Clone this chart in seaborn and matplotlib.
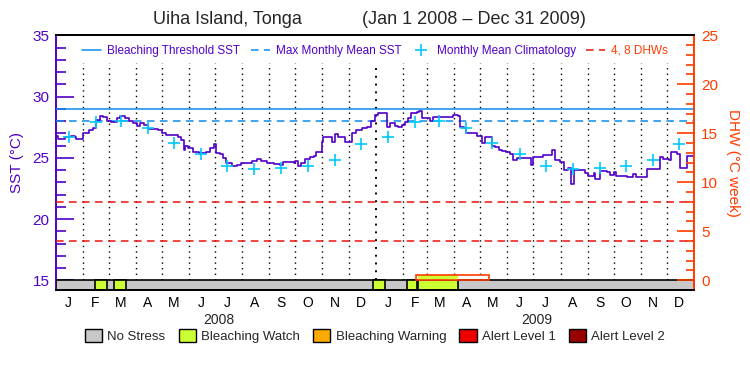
import pandas as pd
import seaborn as sns
import matplotlib
matplotlib.use("Agg")
import matplotlib.pyplot as plt
import matplotlib.dates as mdates
import matplotlib.transforms as mtransforms
from matplotlib.lines import Line2D
from matplotlib.patches import Patch

# ---- data ----
START = pd.Timestamp("2008-01-01")
END = pd.Timestamp("2010-01-01")

# days since 2008-01-01 and daily SST (deg C)
sst_day = [0, 2, 10, 17, 21, 23, 30, 31, 37, 42, 46, 50, 54, 58, 63, 69, 73, 79, 83, 88,
           92, 96, 100, 105, 111, 117, 121, 126, 134, 140, 143, 146, 148, 151, 157, 163,
           168, 172, 176, 181, 183, 188, 191, 195, 201, 207, 212, 218, 224, 230, 235, 241,
           249, 256, 260, 268, 272, 274, 277, 281, 285, 291, 295, 298, 304, 306, 312, 316,
           320, 323, 329, 331, 335, 339, 344, 350, 356, 361, 365, 369, 377, 379, 383, 388,
           392, 396, 400, 403, 407, 413, 416, 419, 424, 428, 432, 440, 447, 455, 460, 463,
           467, 470, 476, 482, 488, 491, 495, 499, 503, 507, 511, 516, 520, 523, 528, 533,
           539, 544, 547, 552, 558, 566, 568, 572, 577, 582, 587, 590, 593, 600, 606, 610,
           616, 618, 623, 631, 635, 639, 642, 650, 654, 661, 665, 673, 677, 683, 688, 692,
           696, 702, 705, 711, 715, 719, 723, 731]
sst_value = [26.78, 26.51, 26.73, 26.81, 26.67, 26.51, 26.51, 27.00, 27.27, 27.46, 28.09,
             28.41, 28.30, 28.03, 27.95, 28.22, 28.41, 28.22, 28.03, 27.87, 27.60, 27.81,
             27.68, 27.32, 27.32, 27.27, 27.00, 26.86, 26.86, 26.73, 26.45, 25.64, 25.96,
             25.77, 25.50, 25.36, 25.36, 25.50, 25.77, 26.10, 25.42, 25.31, 24.96, 24.55,
             24.33, 24.41, 24.60, 24.55, 24.77, 24.87, 24.77, 24.55, 24.49, 24.41, 24.63,
             24.63, 24.55, 24.77, 24.33, 24.55, 24.87, 25.09, 25.15, 25.50, 26.32, 26.67,
             26.67, 26.32, 26.92, 26.67, 26.67, 26.26, 26.32, 27.05, 27.27, 27.46, 27.54,
             28.03, 28.49, 28.63, 28.63, 27.54, 27.81, 27.60, 27.54, 27.68, 27.95, 28.22,
             28.63, 28.77, 28.85, 28.22, 28.22, 28.03, 28.30, 28.30, 28.36, 28.49, 28.44,
             27.54, 27.40, 27.00, 27.05, 26.78, 26.18, 26.67, 26.67, 25.96, 25.91, 25.64,
             25.55, 25.50, 25.31, 24.82, 25.01, 25.01, 24.96, 24.41, 25.04, 25.09, 25.23,
             25.23, 25.64, 24.82, 24.68, 24.00, 24.14, 22.86, 24.00, 24.00, 23.73, 23.51,
             23.79, 23.24, 23.95, 23.87, 23.60, 23.87, 23.51, 23.51, 23.40, 23.68, 23.46,
             23.40, 24.06, 24.06, 24.06, 25.04, 24.87, 24.82, 25.50, 25.31, 24.14, 24.14,
             25.15, 25.15]

# monthly mean climatology (Jan..Dec)
clim_month = list(range(1, 13))
clim_value = [26.73, 27.9, 28.0, 27.4, 26.2, 25.35, 24.35, 24.05, 24.2, 24.3, 24.8, 26.1]

threshold_sst = 29.0
mmm_sst = 28.0
dhw_levels = [4, 8]

# bleaching watch periods in the stress bar
watch_start = ["2008-02-14", "2008-03-07", "2008-12-29", "2009-02-06", "2009-02-19"]
watch_end = ["2008-02-28", "2008-03-21", "2009-01-12", "2009-02-18", "2009-04-06"]

# degree heating weeks bar
dhw_start = ["2009-02-16"]
dhw_end = ["2009-05-11"]
dhw_value = [0.5]

month_letters = list("JFMAMJJASOND")
years = [2008, 2009]

PURPLE = "#5000C8"
BLUE = "#0A8CEB"
CYAN = "#00C8FF"
RED = "#EE1111"
ORANGE = "#FF3C00"
GREY = "#C8C8C8"
GREEN = "#CCFF33"
stress_colors = [GREY, GREEN, "#FFAA00", "#EE0000", "#990000"]
stress_labels = ["No Stress", "Bleaching Watch", "Bleaching Warning", "Alert Level 1", "Alert Level 2"]

sns.set_theme(style="white")
plt.rcParams["font.family"] = ["Liberation Sans", "DejaVu Sans"]

fig = plt.figure(figsize=(7.5, 3.75), dpi=100)
ax = fig.add_axes([0.0751, 0.2267, 0.8502, 0.6792])
ax2 = ax.twinx()

sst = pd.DataFrame({"date": START + pd.to_timedelta(sst_day, unit="D"), "sst": sst_value})
sns.lineplot(data=sst, x="date", y="sst", ax=ax, color=PURPLE, lw=1.2,
             drawstyle="steps-post", zorder=5)

clim = pd.DataFrame({
    "date": [pd.Timestamp(y, m, 15) for y in years for m in clim_month],
    "sst": clim_value * len(years),
})
sns.scatterplot(data=clim, x="date", y="sst", ax=ax, marker="+", s=80,
                color=CYAN, linewidth=1.2, zorder=6)

dash = (0, (5, 3.5))
ax.axhline(threshold_sst, color=BLUE, lw=1.1, zorder=4)
ax.axhline(mmm_sst, color=BLUE, lw=1.1, ls=dash, zorder=4)
for lvl in dhw_levels:
    ax2.axhline(lvl, color=RED, lw=1.1, ls=dash)

# month boundaries
month_starts = pd.date_range(START, END, freq="MS")[1:-1]
for d in month_starts:
    ax.vlines(d, 15, 32.7, colors="black", linestyles=(0, (1, 3)),
              lw=1.4 if d.month == 1 else 1.0, zorder=2)

# stress bar
x0 = mdates.date2num(START)
x1 = mdates.date2num(END)
ax.broken_barh([(x0, x1 - x0)], (14.21, 15 - 14.21), facecolor=GREY,
               edgecolor="black", lw=1.2, zorder=3)
for s, e in zip(watch_start, watch_end):
    s0, e0 = mdates.date2num(pd.Timestamp(s)), mdates.date2num(pd.Timestamp(e))
    ax.broken_barh([(s0, e0 - s0)], (14.21, 15 - 14.21), facecolor=GREEN,
                   edgecolor="black", lw=1.2, zorder=3)

# DHW bars
for s, e, v in zip(dhw_start, dhw_end, dhw_value):
    s0, e0 = mdates.date2num(pd.Timestamp(s)), mdates.date2num(pd.Timestamp(e))
    for ws, we in zip(watch_start, watch_end):
        a, b = mdates.date2num(pd.Timestamp(ws)), mdates.date2num(pd.Timestamp(we))
        if s0 <= a < e0:
            ax2.bar(a, v, width=min(b, e0) - a, align="edge", color=GREEN, lw=0)
    ax2.bar(s0, v, width=e0 - s0, align="edge", facecolor="none",
            edgecolor=ORANGE, lw=1.2)

ax.set_xlim(START, END)
mid_months = [pd.Timestamp(y, m, 15) for y in years for m in range(1, 13)]
ax.set_xticks(mid_months)
ax.set_xticklabels(month_letters * len(years))
ax.tick_params(axis="x", length=0, pad=4, labelsize=10, colors="black")
ax.set_xlabel("")
trans = mtransforms.blended_transform_factory(ax.transData, ax.transAxes)
for y in years:
    ax.text(mdates.date2num(pd.Timestamp(y, 7, 5)), -0.09, str(y), transform=trans,
            ha="center", va="top", fontsize=10)

ax.set_ylim(14.21, 35)
ax.set_yticks([15, 20, 25, 30, 35])
ax.set_yticks(range(16, 35), minor=True)
ax.tick_params(axis="y", which="major", direction="in", length=13, width=1.2,
               colors=PURPLE, labelsize=11, pad=5, left=True)
ax.tick_params(axis="y", which="minor", direction="in", length=7, width=1.2,
               colors=PURPLE, left=True)
ax.set_ylabel("SST (°C)", color=PURPLE, fontsize=11, labelpad=6)

ax2.set_ylim(-0.99, 25)
ax2.set_yticks([0, 5, 10, 15, 20, 25])
ax2.set_yticks(range(1, 25), minor=True)
ax2.tick_params(axis="y", which="major", direction="in", length=12, width=1.2,
                colors=ORANGE, labelsize=11, pad=5, right=True)
ax2.tick_params(axis="y", which="minor", direction="in", length=6, width=1.2,
                colors=ORANGE, right=True)
ax2.set_ylabel("DHW (°C week)", color=ORANGE, fontsize=11, rotation=270,
               va="bottom", labelpad=6)
ax2.grid(False)
ax.grid(False)

for name, sp in ax.spines.items():
    sp.set_linewidth(1.4)
    sp.set_color("black")
ax.spines["left"].set_color(PURPLE)
ax.spines["right"].set_visible(False)
for name, sp in ax2.spines.items():
    sp.set_linewidth(1.4)
    sp.set_color("black")
ax2.spines["left"].set_visible(False)
ax2.spines["right"].set_color(ORANGE)

handles = [
    Line2D([], [], color=BLUE, lw=1.1),
    Line2D([], [], color=BLUE, lw=1.1, ls=dash),
    Line2D([], [], color=CYAN, marker="+", ls="none", ms=8, mew=1.2),
    Line2D([], [], color=RED, lw=1.1, ls=dash),
]
labels = ["Bleaching Threshold SST", "Max Monthly Mean SST",
          "Monthly Mean Climatology", "4, 8 DHWs"]
ax2.legend(handles, labels, loc="upper center", bbox_to_anchor=(0.5, 0.995), ncol=4,
           frameon=False, fontsize=8.5, handlelength=1.6, handletextpad=0.5,
           columnspacing=0.9, borderaxespad=0.3,
           labelcolor=[PURPLE, PURPLE, PURPLE, ORANGE])

fig.legend([Patch(facecolor=c, edgecolor="black", lw=1) for c in stress_colors],
           stress_labels, loc="center", bbox_to_anchor=(0.5, 0.104), ncol=5,
           frameon=False, fontsize=9.5, handlelength=1.3, handleheight=1.2,
           handletextpad=0.4, columnspacing=1.0)

fig.text(0.303, 0.947, "Uiha Island, Tonga", ha="center", va="center", fontsize=13)
fig.text(0.632, 0.947, "(Jan 1 2008 – Dec 31 2009)", ha="center", va="center", fontsize=13)

fig.savefig("out.png", dpi=100)
